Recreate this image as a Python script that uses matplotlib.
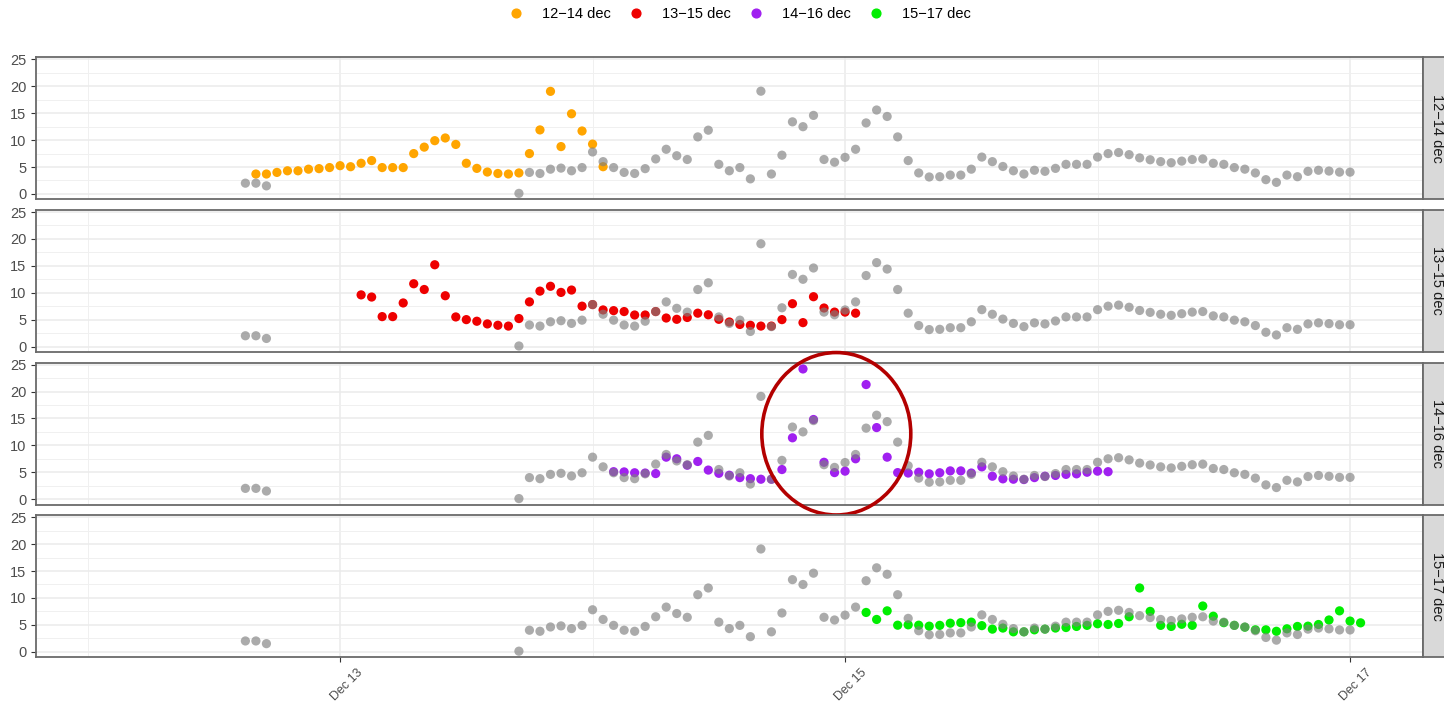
import matplotlib
matplotlib.use("Agg")
import matplotlib.pyplot as plt
import matplotlib.dates as mdates
import pandas as pd
from matplotlib.patches import Ellipse
from matplotlib.lines import Line2D
from matplotlib.transforms import ScaledTranslation

plt.rcParams['font.family'] = ['Liberation Sans', 'DejaVu Sans']

# ---------------------------------------------------------------- data
# Reference series (grey), hourly; two separate stretches
ref_start_a = "2019-12-12 15:00"
ref_vals_a = [2.0, 2.0, 1.5]
ref_start_b = "2019-12-13 17:00"
ref_vals_b = [
    0.1, 4.0, 3.8, 4.6, 4.8, 4.3, 4.9,
    7.8, 6.0, 4.9, 4.0, 3.8, 4.7, 6.5, 8.3, 7.1, 6.4, 10.6, 11.85,
    5.5, 4.3, 4.9, 2.8, 19.1, 3.7, 7.2, 13.4, 12.5, 14.6, 6.4, 5.9,
    6.8, 8.3, 13.2, 15.6, 14.4, 10.6, 6.2, 3.9, 3.15, 3.2, 3.5, 3.5,
    4.6, 6.85, 6.0, 5.1, 4.3, 3.7, 4.4, 4.2, 4.75, 5.5, 5.5, 5.5,
    6.85, 7.5, 7.7, 7.3, 6.7, 6.35, 6.0, 5.8, 6.1, 6.4, 6.5, 5.7,
    5.5, 4.9, 4.6, 3.9, 2.65, 2.15, 3.5, 3.2, 4.2, 4.4, 4.25, 4.05,
    4.05,
]

# Forecast runs, hourly from their start time
run_labels = ["12\u221214 dec", "13\u221215 dec", "14\u221216 dec", "15\u221217 dec"]
run_colors = ["#FFA500", "#EE0000", "#A020F0", "#00EE00"]
run_starts = ["2019-12-12 16:00", "2019-12-13 02:00",
              "2019-12-14 02:00", "2019-12-15 02:00"]

run_12_14 = [
    3.7, 3.7, 4.0, 4.3, 4.3, 4.6, 4.7, 4.9,
    5.25, 5.06, 5.7, 6.2, 4.9, 4.9, 4.9, 7.5, 8.7, 9.9, 10.4, 9.2,
    5.7, 4.75, 4.07, 3.8, 3.7, 3.9, 7.5, 11.9, 19.07, 8.8, 14.9, 11.7,
    9.26, 5.06,
]
run_13_15 = [
    9.6, 9.2, 5.56, 5.56, 8.1, 11.67, 10.6, 15.2, 9.44, 5.5, 5.0,
    4.7, 4.2, 3.95, 3.8, 5.2, 8.3, 10.3, 11.2, 10.06, 10.5, 7.5,
    7.8, 6.8, 6.67, 6.5, 5.86, 5.86, 6.5, 5.3, 5.06, 5.4, 6.2, 5.9,
    5.06, 4.56, 4.1, 3.95, 3.8, 3.8, 5.0, 7.96, 4.44, 9.26, 7.16, 6.4,
    6.4, 6.2,
]
run_14_16 = [
    5.1, 5.06, 4.9, 4.85, 4.75, 7.8, 7.5, 6.3, 7.0, 5.4, 4.8,
    4.44, 4.0, 3.8, 3.7, 3.7, 5.5, 11.4, 24.2, 14.8, 6.85, 4.93,
    5.2, 7.5, 21.3, 13.3, 7.8, 4.93, 4.85, 5.0, 4.7, 4.9, 5.25, 5.25,
    4.85, 6.0, 4.26, 3.77, 3.7, 3.64, 4.0, 4.26, 4.4, 4.6, 4.7, 5.0,
    5.2, 5.1,
]
run_15_17 = [
    7.3, 6.0, 7.6, 4.93, 5.0, 4.93, 4.75, 4.9, 5.3, 5.4, 5.5,
    4.85, 4.2, 4.4, 3.7, 3.7, 4.07, 4.2, 4.4, 4.5, 4.7, 4.9,
    5.2, 5.06, 5.25, 6.5, 11.85, 7.5, 4.9, 4.7, 5.1, 4.9, 8.5, 6.6,
    5.4, 4.9, 4.56, 4.07, 4.07, 3.8, 4.26, 4.7, 4.75, 5.06, 5.9, 7.6,
    5.7, 5.37,
]
run_values = [run_12_14, run_13_15, run_14_16, run_15_17]

y_ticks = [0, 5, 10, 15, 20, 25]


def hourly(start, values):
    return pd.date_range(start, periods=len(values), freq="h")


ref_t = hourly(ref_start_a, ref_vals_a).append(hourly(ref_start_b, ref_vals_b))
ref_v = ref_vals_a + ref_vals_b

# ---------------------------------------------------------------- layout
W, H = 1444, 705
fig = plt.figure(figsize=(W / 100, H / 100), dpi=100)
fig.patch.set_facecolor("white")

left_px, right_px = 35.5, 1423
panel_h = 142
panel_tops = [57.3 + i * 152.6 for i in range(4)]
strip_w = 28

x_min = mdates.date2num(pd.Timestamp("2019-12-11 19:03"))
x_max = mdates.date2num(pd.Timestamp("2019-12-17 06:56"))

border_col = "#6A6A6A"
axes = []
for i, top in enumerate(panel_tops):
    bottom = 1 - (top + panel_h) / H
    ax = fig.add_axes([left_px / W, bottom, (right_px - left_px) / W, panel_h / H])
    axes.append(ax)

    ax.scatter(hourly(run_starts[i], run_values[i]), run_values[i],
               s=44, color=run_colors[i], edgecolors="none", zorder=3)
    ax.scatter(ref_t, ref_v, s=44, color="#7F7F7F", alpha=0.65,
               edgecolors="none", zorder=4)

    ax.set_xlim(x_min, x_max)
    ax.set_ylim(-1.0, 25.4)
    ax.set_yticks(y_ticks)
    ax.set_yticks([2.5, 7.5, 12.5, 17.5, 22.5], minor=True)
    ax.xaxis.set_major_locator(mdates.DayLocator(bymonthday=[13, 15, 17]))
    ax.xaxis.set_minor_locator(mdates.DayLocator(bymonthday=[12, 14, 16]))
    ax.xaxis.set_major_formatter(mdates.DateFormatter("%b %d"))

    ax.grid(which="major", color="#EBEBEB", linewidth=1.1, zorder=0)
    ax.grid(which="minor", color="#F0F0F0", linewidth=0.7, zorder=0)
    ax.set_axisbelow(True)

    for sp in ax.spines.values():
        sp.set_color(border_col)
        sp.set_linewidth(1.3)

    ax.tick_params(axis="y", which="major", length=3.6, width=0.8,
                   color="#333333", labelsize=10.5, labelcolor="#4D4D4D", pad=3)
    ax.tick_params(axis="y", which="minor", length=0)
    ax.tick_params(axis="x", which="minor", length=0)
    if i < 3:
        ax.tick_params(axis="x", which="major", length=0, labelbottom=False)
    else:
        ax.tick_params(axis="x", which="major", length=3.6, width=0.8,
                       color="#333333", labelsize=9, labelcolor="#4D4D4D", pad=3)
        shift = ScaledTranslation(16 / 100, 0, fig.dpi_scale_trans)
        for lab in ax.get_xticklabels():
            lab.set_rotation(45)
            lab.set_ha("right")
            lab.set_va("top")
            lab.set_rotation_mode("anchor")
            lab.set_transform(lab.get_transform() + shift)

    # facet strip on the right
    sax = fig.add_axes([right_px / W, bottom, strip_w / W, panel_h / H])
    sax.set_facecolor("#D9D9D9")
    sax.set_xticks([])
    sax.set_yticks([])
    for sp in sax.spines.values():
        sp.set_color(border_col)
        sp.set_linewidth(1.3)
    sax.text(0.5, 0.5, run_labels[i], rotation=270, ha="center", va="center",
             fontsize=10.5, color="#1A1A1A", transform=sax.transAxes)

# highlight around the 14-16 dec peaks
ring = Ellipse((mdates.date2num(pd.Timestamp("2019-12-14 23:10")), 12.15),
               width=0.59, height=30.2, fill=False, edgecolor="#B30000",
               linewidth=2.6, clip_on=False, zorder=10)
axes[2].add_patch(ring)

# legend across the top
handles = [Line2D([], [], marker="o", linestyle="", color=c, markersize=6.3)
           for c in run_colors]
fig.legend(handles, run_labels, loc="center", bbox_to_anchor=(740 / W, 1 - 14 / H),
           ncol=4, frameon=False, fontsize=10.5, handlelength=1.0,
           handletextpad=1.3, columnspacing=1.2)

fig.savefig("out.png", dpi=100, facecolor="white")
